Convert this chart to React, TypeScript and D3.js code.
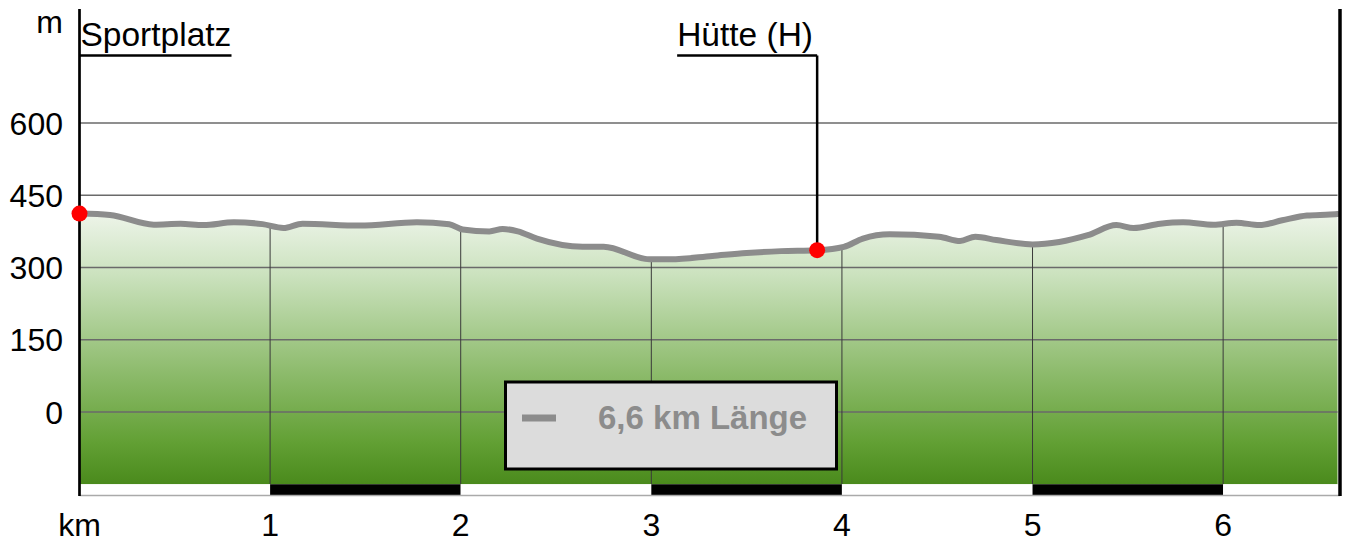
import React from "react";
import * as d3 from "d3";

// profile: distance (km) / elevation (m)
const distKm = [
  0, 0.16, 0.39, 0.53, 0.65, 0.81, 0.96, 1.07, 1.17, 1.47, 1.77, 1.94, 2.01,
  2.15, 2.22, 2.3, 2.4, 2.64, 2.75, 2.99, 3.1, 3.32, 3.5, 3.68, 3.87, 4.01,
  4.11, 4.25, 4.51, 4.62, 4.7, 4.81, 5.0, 5.14, 5.29, 5.44, 5.53, 5.67, 5.79,
  5.95, 6.07, 6.19, 6.31, 6.44, 6.56, 6.6,
];
const elevM = [
  412, 409, 389, 391, 388, 394, 390, 382, 391, 387, 394, 390, 379, 375, 380,
  375, 360, 343, 343, 317, 317, 324, 330, 334, 336, 343, 360, 369, 364, 355,
  364, 357, 348, 353, 367, 388, 382, 391, 394, 389, 393, 388, 398, 408, 410,
  411,
];

const yTicks = [0, 150, 300, 450, 600];
const xTicks = [1, 2, 3, 4, 5, 6];
const totalKm = 6.6;

const waypointNames = ["Sportplatz", "Hütte (H)"];
const waypointKm = [0, 3.87];
const waypointElev = [412, 336];

const legendText = "6,6 km Länge";

const W = 1345;
const H = 541;

export default function App() {
  const x = d3.scaleLinear().domain([0, totalKm]).range([79.5, 1337.5]);
  const y = d3.scaleLinear().domain([0, 600]).range([412, 123]);
  const bottom = y(-150);
  const barBottom = 495;
  const top = 9;

  const pts = distKm.map((d, i) => [d, elevM[i]] as [number, number]);
  const area = d3
    .area<[number, number]>()
    .x((d) => x(d[0]))
    .y0(bottom)
    .y1((d) => y(d[1]))
    .curve(d3.curveMonotoneX);
  const line = d3
    .line<[number, number]>()
    .x((d) => x(d[0]))
    .y((d) => y(d[1]))
    .curve(d3.curveMonotoneX);

  const font = "'Liberation Sans', Arial, sans-serif";
  const segs = d3.range(0, Math.ceil(totalKm));

  return (
    <svg
      width={W}
      height={H}
      style={{ position: "absolute", left: 0, top: 0, background: "#fff" }}
      fontFamily={font}
    >
      <defs>
        <linearGradient id="grad" gradientUnits="userSpaceOnUse" x1="0" x2="0" y1={205} y2={bottom}>
          <stop offset="0" stopColor="#f2f7ef" />
          <stop offset="0.25" stopColor="#cbe2be" />
          <stop offset="0.6" stopColor="#8dbb6c" />
          <stop offset="0.85" stopColor="#62a034" />
          <stop offset="1" stopColor="#4a8a1c" />
        </linearGradient>
        <clipPath id="areaClip">
          <path d={area(pts) || ""} />
        </clipPath>
      </defs>

      <path d={area(pts) || ""} fill="url(#grad)" />

      {yTicks.map((t) => (
        <g key={t}>
          <line x1={x(0)} x2={x(totalKm)} y1={y(t)} y2={y(t)} stroke="#6a6a6a" strokeWidth={1.3} />
          <text x={63} y={y(t) + 11.5} textAnchor="end" fontSize={32} fill="#000">
            {t}
          </text>
        </g>
      ))}

      <g clipPath="url(#areaClip)">
        {xTicks.map((t) => (
          <line key={t} x1={x(t)} x2={x(t)} y1={top} y2={bottom} stroke="#3a3a3a" strokeWidth={1} />
        ))}
      </g>

      <path d={line(pts) || ""} fill="none" stroke="#8c8c8c" strokeWidth={6} strokeLinejoin="round" strokeLinecap="round" />

      {/* km scale bar */}
      {segs.map((i) => (
        <rect
          key={i}
          x={x(i)}
          y={bottom}
          width={x(Math.min(i + 1, totalKm)) - x(i)}
          height={barBottom - bottom}
          fill={i % 2 === 1 ? "#000" : "#fff"}
        />
      ))}
      <line x1={x(0)} x2={1340} y1={barBottom + 0.5} y2={barBottom + 0.5} stroke="#aaa" strokeWidth={1.5} />

      {/* frame */}
      <line x1={79.5} x2={79.5} y1={top} y2={barBottom + 1} stroke="#000" strokeWidth={2.7} />
      <line x1={1340} x2={1340} y1={top} y2={barBottom + 1} stroke="#000" strokeWidth={3.5} />

      <text x={63} y={33} textAnchor="end" fontSize={32}>m</text>
      <text x={x(0)} y={536} textAnchor="middle" fontSize={32}>km</text>
      {xTicks.map((t) => (
        <text key={t} x={x(t)} y={536} textAnchor="middle" fontSize={32}>
          {t}
        </text>
      ))}

      {/* waypoints */}
      {waypointNames.map((n, i) => {
        const px = x(waypointKm[i]);
        const py = y(waypointElev[i]);
        const right = i > 0;
        const tw = right ? 140 : 152;
        return (
          <g key={n}>
            <line
              x1={right ? px - tw : px}
              x2={right ? px : px + tw}
              y1={55.5}
              y2={55.5}
              stroke="#000"
              strokeWidth={2.5}
            />
            {right && <line x1={px} x2={px} y1={55.5} y2={py} stroke="#000" strokeWidth={2.5} />}
            <text x={right ? px - tw : px + 1} y={46} fontSize={33.5}>
              {n}
            </text>
            <circle cx={px} cy={py} r={8} fill="#ff0000" />
          </g>
        );
      })}

      {/* legend */}
      <rect x={505.5} y={382} width={331} height={87} fill="#dcdcdc" stroke="#000" strokeWidth={3} />
      <line x1={522} x2={556} y1={418} y2={418} stroke="#8c8c8c" strokeWidth={7} />
      <text x={598} y={429} fontSize={33} fontWeight="bold" fill="#8c8c8c">
        {legendText}
      </text>
    </svg>
  );
}
